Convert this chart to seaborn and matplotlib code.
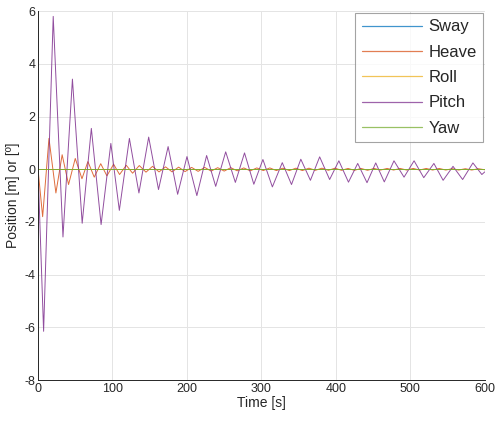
import pandas as pd
import seaborn as sns
import matplotlib.pyplot as plt
from matplotlib.lines import Line2D

# ==========================================
# DATA
# ==========================================

SERIES = ["Sway", "Heave", "Roll", "Pitch", "Yaw"]
COLORS = ["#0072BD", "#D95319", "#EDB120", "#7E2F8E", "#77AC30"]

# flat responses
sway_t = [0, 600]
sway_v = [0.0, 0.0]
roll_t = [0, 600]
roll_v = [0.0, 0.0]
yaw_t = [0, 600]
yaw_v = [0.0, 0.0]

# pitch: start, peaks/troughs, end
pitch_t = [0, 7.5, 20.4, 33.5, 46.2, 59.3, 71.6, 84.7, 97.8, 109.2, 122.7, 135.5,
           148.6, 161.8, 174.7, 187.5, 200.0, 213.3, 226.4, 238.6, 252.0, 265.0,
           277.3, 289.8, 302.0, 314.7, 328.0, 340.4, 352.9, 365.8, 378.2, 391.6,
           404.0, 416.9, 429.3, 441.8, 453.5, 465.0, 478.0, 491.5, 505.0, 518.0,
           531.6, 544.0, 557.3, 570.2, 584.0, 596.0, 600]
pitch_v = [0.0, -6.15, 5.8, -2.57, 3.42, -2.05, 1.55, -2.1, 0.98, -1.56, 1.17, -0.9,
           1.22, -0.77, 0.86, -0.95, 0.48, -1.0, 0.52, -0.65, 0.66, -0.5,
           0.62, -0.57, 0.37, -0.67, 0.25, -0.58, 0.38, -0.42, 0.47, -0.39,
           0.32, -0.49, 0.22, -0.51, 0.24, -0.48, 0.32, -0.3, 0.32, -0.32,
           0.22, -0.42, 0.11, -0.39, 0.24, -0.2, -0.1]

# heave: start, peaks/troughs, end
heave_t = [0, 6.2, 14.7, 24.0, 32.4, 41.0, 50.0, 59.0, 67.0, 75.5, 84.2, 92.5,
           101.5, 109.5, 118.5, 127.0, 136.0, 145.0, 153.8, 162.5, 171.3, 180.0,
           188.8, 197.5, 206.3, 215.0, 223.8, 232.5, 241.3, 250.0, 258.8, 267.5,
           276.3, 285.0, 293.8, 302.5, 311.3, 320.0, 328.8, 337.5, 346.3, 355.0,
           363.8, 372.5, 381.3, 390.0, 398.8, 407.5, 416.3, 425.0, 433.8, 442.5,
           451.3, 460.0, 468.8, 477.5, 486.3, 495.0, 503.8, 512.5, 521.3, 530.0,
           538.8, 547.5, 556.3, 565.0, 573.8, 582.5, 591.3, 600]
heave_v = [0.0, -1.8, 1.17, -0.9, 0.55, -0.58, 0.41, -0.36, 0.29, -0.3, 0.21, -0.25,
           0.19, -0.2, 0.15, -0.15, 0.14, -0.11, 0.11, -0.1, 0.09, -0.1,
           0.08, -0.09, 0.07, -0.08, 0.07, -0.07, 0.06, -0.07, 0.06, -0.06,
           0.05, -0.06, 0.05, -0.05, 0.05, -0.05, 0.04, -0.05, 0.04, -0.05,
           0.04, -0.04, 0.04, -0.04, 0.04, -0.04, 0.03, -0.04, 0.03, -0.04,
           0.03, -0.03, 0.03, -0.03, 0.03, -0.03, 0.03, -0.03, 0.03, -0.03,
           0.03, -0.03, 0.02, -0.03, 0.02, -0.03, 0.02, -0.02]

X_TICKS = [0, 100, 200, 300, 400, 500, 600]
Y_TICKS = [-8, -6, -4, -2, 0, 2, 4, 6]

OUTPUT_IMAGE = "out.png"

# ==========================================


def build_frame():
    parts = []
    for name, t, v in zip(SERIES,
                          [sway_t, heave_t, roll_t, pitch_t, yaw_t],
                          [sway_v, heave_v, roll_v, pitch_v, yaw_v]):
        parts.append(pd.DataFrame({"Time": t, "Position": v, "Series": name}))
    return pd.concat(parts, ignore_index=True)


def generate_plot():
    df = build_frame()

    sns.set_theme(style="white")
    plt.rcParams["font.family"] = ["Liberation Sans", "DejaVu Sans"]
    plt.rcParams["axes.unicode_minus"] = False
    plt.rcParams["xtick.direction"] = "in"
    plt.rcParams["ytick.direction"] = "in"

    fig = plt.figure(figsize=(4.97, 4.28), dpi=100)
    ax = fig.add_axes([0.0765, 0.112, 0.899, 0.862])

    sns.lineplot(
        data=df, x="Time", y="Position", hue="Series",
        hue_order=SERIES, palette=dict(zip(SERIES, COLORS)),
        estimator=None, sort=False, linewidth=0.7, alpha=0.85,
        legend=False, ax=ax
    )

    ax.set_xlim(0, 600)
    ax.set_ylim(-8, 6)
    ax.set_xticks(X_TICKS)
    ax.set_yticks(Y_TICKS)
    ax.grid(True, color="#e4e4e4", linewidth=0.7)
    ax.set_axisbelow(True)

    for side in ["top", "right"]:
        ax.spines[side].set_visible(False)
    for side in ["left", "bottom"]:
        ax.spines[side].set_color("#262626")
        ax.spines[side].set_linewidth(0.7)
    ax.tick_params(axis="both", which="both", length=4, width=0.6, colors="#262626",
                   labelsize=9, pad=2)

    ax.set_xlabel("Time [s]", fontsize=10, color="#262626", labelpad=1)
    ax.set_ylabel("Position [m] or [º]", fontsize=10, color="#262626", labelpad=3)

    # legend handles only carry the series style
    handles = [Line2D([], [], color=c, linewidth=0.9, alpha=0.75) for c in COLORS]
    leg = ax.legend(handles, SERIES, loc="upper right", bbox_to_anchor=(1.0, 1.0),
                    borderaxespad=0.1, fontsize=12, frameon=True, fancybox=False,
                    handlelength=3.6, handletextpad=0.4, labelspacing=0.62,
                    borderpad=0.4)
    leg.get_frame().set_edgecolor("#8c8c8c")
    leg.get_frame().set_linewidth(0.8)

    fig.savefig(OUTPUT_IMAGE, dpi=100)


if __name__ == "__main__":
    generate_plot()
